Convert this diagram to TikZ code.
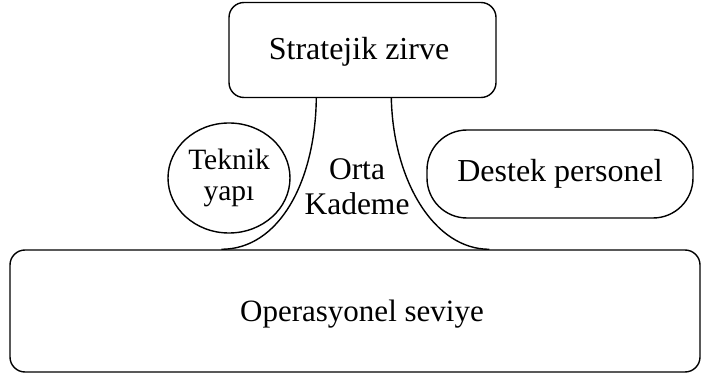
\documentclass[tikz,border=0pt]{standalone}
\usepackage{fontspec}
\setmainfont{Liberation Serif}
\usetikzlibrary{shapes.geometric,calc}
\begin{document}
\begin{tikzpicture}[x=1pt,y=-1pt,
  line width=1.4pt,
  box/.style={draw,rounded corners=15pt,inner sep=0pt},
  lbl/.style={font=\fontsize{32}{37}\selectfont,align=center,inner sep=0pt}]
\useasboundingbox (0,0) rectangle (707,374);
% apex
\node[box,minimum width=267pt,minimum height=95pt] (apex) at (362.5,50) {};
\node[lbl] (apexT) at (359,52) {Stratejik zirve};
% operating core
\node[box,minimum width=690pt,minimum height=122pt] (core) at (355,311) {};
\node[lbl,font=\fontsize{31}{36}\selectfont] (coreT) at (362,314) {Operasyonel seviye};
% technostructure
\node[draw,ellipse,minimum width=122pt,minimum height=110pt,inner sep=0pt,
      font=\fontsize{29.5}{31}\selectfont,align=center] (tech) at (229,178) {Teknik\\yapı};
% support staff
\node[draw,rounded corners=40pt,minimum width=266pt,minimum height=88pt,inner sep=0pt,
      font=\fontsize{32}{37}\selectfont] (sup) at (560,174) {Destek personel};
% middle line
\node[font=\fontsize{31.5}{35}\selectfont,align=center,inner sep=0pt] (mid) at (357,187) {Orta\\Kademe};
% connecting curves
\coordinate (la) at ($(apex.south west)+(88,0)$);
\coordinate (ra) at ($(apex.south west)+(163,0)$);
\coordinate (lc) at ($(core.north west)+(212,0)$);
\coordinate (rc) at ($(core.north west)+(480,0)$);
\draw (la) .. controls ($(la)+(-1,83)$) and ($(lc)+(58,0)$) .. (lc);
\draw (ra) .. controls ($(ra)+(2,83)$) and ($(rc)+(-55,0)$) .. (rc);
\end{tikzpicture}
\end{document}
